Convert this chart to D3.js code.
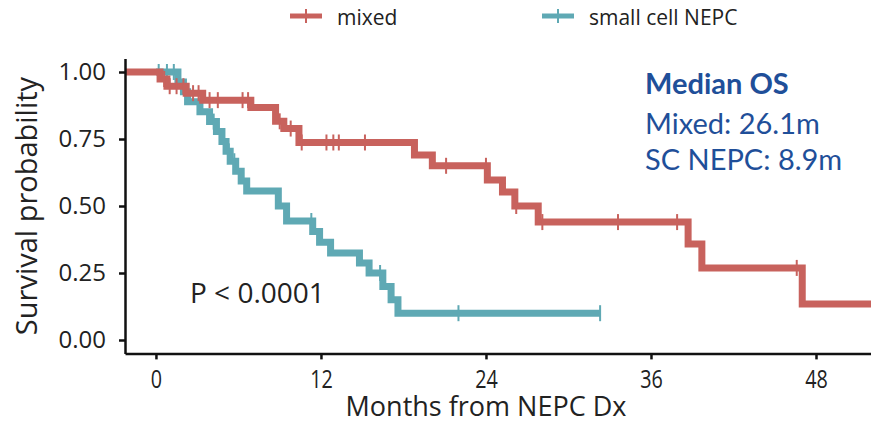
<!DOCTYPE html>
<html>
<head>
<meta charset="utf-8">
<script src="https://cdn.jsdelivr.net/npm/d3@7"></script>
<style>
  body { margin: 0; background: #fff; }
  text { font-family: "Open Sans", sans-serif; fill: #222; }
</style>
</head>
<body>
<div id="km"></div>
<script>
// Kaplan-Meier curves
// times at which each survival level starts (months), and the level itself
// (the mixed curve is drawn from the left edge of the panel, as in the picture)
const mixedTime = [-2.25, 0.3, 0.8, 2.2, 3.4, 6.9, 8.7, 9.3, 10.4, 18.8, 20.1, 24.1, 25.2, 26.1, 27.8, 38.7, 39.7, 47.0];
const mixedSurv = [1, 0.974, 0.947, 0.921, 0.895, 0.868, 0.816, 0.789, 0.737, 0.69, 0.65, 0.597, 0.552, 0.5, 0.44, 0.358, 0.269, 0.134];
const mixedEnd = 53;
const mixedCensor = [0.6, 1.0, 1.5, 2.0, 2.7, 3.1, 3.9, 4.5, 6.3, 6.7, 9.0, 9.8, 10.6, 12.4, 12.9, 13.3, 15.2, 21.1, 24.0, 26.2, 28.1, 33.6, 37.9, 46.6];

const scTime = [0, 1.6, 2.0, 2.3, 3.2, 3.9, 4.4, 4.8, 5.1, 5.4, 5.8, 6.2, 6.6, 8.9, 9.5, 11.4, 11.9, 12.7, 14.8, 15.5, 16.5, 17.1, 17.6];
const scSurv = [1, 0.963, 0.926, 0.889, 0.852, 0.815, 0.778, 0.741, 0.704, 0.667, 0.63, 0.593, 0.556, 0.5, 0.444, 0.405, 0.365, 0.325, 0.287, 0.25, 0.2, 0.15, 0.1];
const scEnd = 32.3;
const scCensor = [0.2, 0.8, 1.3, 4.2, 5.3, 5.7, 11.3, 16.3, 22.0, 32.3];

const xTicks = [0, 12, 24, 36, 48];
const yTicks = [0, 0.25, 0.5, 0.75, 1];
const groupNames = ["mixed", "small cell NEPC"];
const medianLines = ["Median OS", "Mixed: 26.1m", "SC NEPC: 8.9m"];
const pText = "P < 0.0001";

const red = "#C8625D", teal = "#5FA9B4", blue = "#1F4F99";

const W = 871, H = 424;
const svg = d3.select("#km").append("svg")
    .attr("width", W)
    .attr("height", H);

const x = d3.scaleLinear().domain([-2.25, 52]).range([125, 871]);
const y = d3.scaleLinear().domain([-0.05, 1.05]).range([353.4, 58.6]);

// build step points from the level arrays
function steps(times, surv, end) {
  const pts = times.map((t, i) => [t, surv[i]]);
  pts.push([end, surv[surv.length - 1]]);
  return pts;
}
function survAt(times, surv, t) {
  let s = surv[0];
  times.forEach((tt, i) => { if (tt <= t) s = surv[i]; });
  return s;
}

const line = d3.line()
    .x(d => x(d[0]))
    .y(d => y(d[1]))
    .curve(d3.curveStepAfter);

// teal first, red drawn over it
const series = [
  {time: scTime, surv: scSurv, end: scEnd, censor: scCensor, color: teal},
  {time: mixedTime, surv: mixedSurv, end: mixedEnd, censor: mixedCensor, color: red}
];

series.forEach(s => {
  svg.append("path")
      .attr("d", line(steps(s.time, s.surv, s.end)))
      .attr("fill", "none")
      .attr("stroke", s.color)
      .attr("stroke-width", 7);
  svg.selectAll(null)
      .data(s.censor)
      .enter()
      .append("line")
      .attr("x1", d => x(d))
      .attr("x2", d => x(d))
      .attr("y1", d => y(survAt(s.time, s.surv, d)) - 8)
      .attr("y2", d => y(survAt(s.time, s.surv, d)) + 8)
      .attr("stroke", s.color)
      .attr("stroke-width", 2);
});

// Y axis
const yAxis = svg.append("g")
    .attr("transform", `translate(${x.range()[0]},0)`)
    .call(d3.axisLeft(y).tickValues(yTicks).tickFormat(d3.format(".2f")).tickSize(6).tickSizeOuter(0).tickPadding(13));
yAxis.select(".domain").attr("stroke", "#111").attr("stroke-width", 2.5);
yAxis.selectAll(".tick line").attr("stroke", "#111").attr("stroke-width", 2.5);
yAxis.selectAll(".tick text").style("font-size", "24px").style("font-family", "Open Sans").attr("fill", "#222");

// X axis
const xAxis = svg.append("g")
    .attr("transform", `translate(0,${y.range()[0]})`)
    .call(d3.axisBottom(x).tickValues(xTicks).tickSize(6).tickSizeOuter(0));
xAxis.select(".domain").attr("stroke", "#111").attr("stroke-width", 2.5);
xAxis.selectAll(".tick line").attr("stroke", "#111").attr("stroke-width", 2.5);
xAxis.selectAll(".tick text")
    .attr("y", 35).attr("dy", null)
    .attr("transform", "scale(0.76,1)")
    .style("font-size", "26px").style("font-family", "Open Sans").attr("fill", "#222");

// axis titles
svg.append("text")
    .attr("x", 486)
    .attr("y", 416)
    .attr("text-anchor", "middle")
    .style("font-size", "27px")
    .text("Months from NEPC Dx");

svg.append("text")
    .attr("transform", `translate(37,${(y.range()[0] + y.range()[1]) / 2}) rotate(-90)`)
    .attr("text-anchor", "middle")
    .style("font-size", "29px")
    .text("Survival probability");

// legend
const legendX = [290, 542];
const legendColor = [red, teal];
groupNames.forEach((name, i) => {
  const g = svg.append("g").attr("transform", `translate(${legendX[i]},16)`);
  g.append("line").attr("x1", 0).attr("x2", 32).attr("y1", 0).attr("y2", 0)
      .attr("stroke", legendColor[i]).attr("stroke-width", 5);
  g.append("line").attr("x1", 16).attr("x2", 16).attr("y1", -7).attr("y2", 7)
      .attr("stroke", legendColor[i]).attr("stroke-width", 2);
  g.append("text").attr("x", 47).attr("y", 9)
      .style("font-size", "21px").text(name);
});

// p value
svg.append("text")
    .attr("x", 190)
    .attr("y", 303)
    .style("font-size", "28px")
    .text(pText);

// median OS annotation
const medY = [94, 134, 170];
medianLines.forEach((t, i) => {
  svg.append("text")
      .attr("x", 645)
      .attr("y", medY[i])
      .style("font-family", "Lato, 'Open Sans', sans-serif")
      .style("font-size", "29px")
      .style("font-weight", i === 0 ? "bold" : "normal")
      .style("fill", blue)
      .text(t);
});
</script>
</body>
</html>
